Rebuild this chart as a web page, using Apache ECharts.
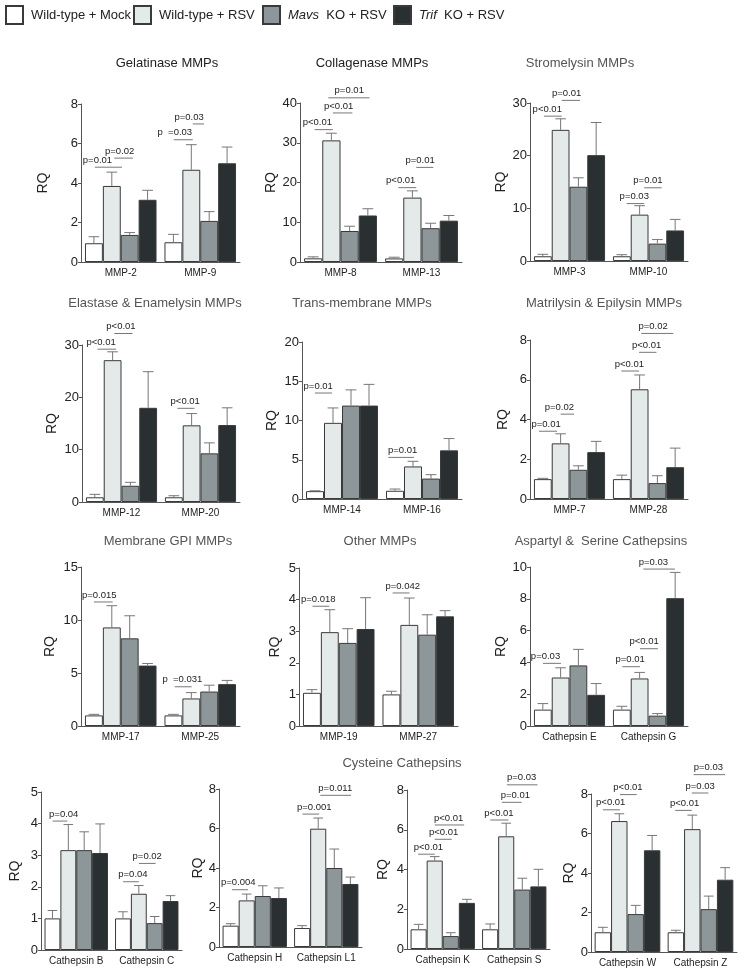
<!DOCTYPE html>
<html><head><meta charset="utf-8">
<script src="https://cdn.jsdelivr.net/npm/echarts@6/dist/echarts.min.js"></script>
<style>html,body{margin:0;padding:0;background:#fff}#c{width:749px;height:978px}</style>
</head><body><div id="c"></div>
<script>
// ---------- DATA ----------
const groupNames = ['Wild-type + Mock', 'Wild-type + RSV', 'Mavs KO + RSV', 'Trif KO + RSV'];

const gelTitle = 'Gelatinase MMPs';
const gelCats = ['MMP-2', 'MMP-9'];
const gelMeans = [[0.95, 1.0], [3.85, 4.67], [1.37, 2.08], [3.15, 5.0]];
const gelUpper = [[1.28, 1.4], [4.55, 5.94], [1.49, 2.55], [3.63, 5.82]];
const gelSig = [[0, 0.55, 2.07, 4.8, 'p=0.01', 0.7], [0, 1.64, 2.68, 5.26, 'p=0.02', 1.94], [1, 0.52, 1.58, 6.19, 'p  =0.03', 0.58], [1, 1.58, 2.21, 6.99, 'p=0.03', 1.38]];

const colTitle = 'Collagenase MMPs';
const colCats = ['MMP-8', 'MMP-13'];
const colMeans = [[0.92, 0.9], [30.6, 16.2], [7.8, 8.5], [11.7, 10.4]];
const colUpper = [[1.3, 1.2], [32.4, 17.9], [9.0, 9.75], [13.4, 11.7]];
const colSig = [[0, 0.58, 1.58, 33.3, 'p<0.01', 0.73], [0, 1.58, 2.65, 37.5, 'p<0.01', 1.9], [0, 1.33, 3.59, 41.3, 'p=0.01', 2.48], [1, 0.73, 1.71, 18.7, 'p<0.01', 0.86], [1, 1.71, 2.65, 23.8, 'p=0.01', 1.92]];

const strTitle = 'Stromelysin MMPs';
const strCats = ['MMP-3', 'MMP-10'];
const strMeans = [[0.9, 0.9], [24.9, 8.8], [14.1, 3.3], [20.1, 5.8]];
const strUpper = [[1.27, 1.2], [27.0, 10.5], [15.8, 4.07], [26.3, 7.9]];
const strSig = [[0, 0.56, 1.56, 27.5, 'p<0.01', 0.75], [0, 1.56, 2.59, 30.5, 'p=0.01', 1.84], [1, 0.77, 1.76, 10.9, 'p=0.03', 1.2], [1, 1.76, 2.74, 13.9, 'p=0.01', 1.97]];

const elaTitle = 'Elastase & Enamelysin MMPs';
const elaCats = ['MMP-12', 'MMP-20'];
const elaMeans = [[0.9, 0.9], [27.1, 14.65], [3.1, 9.3], [18.0, 14.7]];
const elaUpper = [[1.46, 1.2], [28.7, 16.9], [3.76, 11.3], [24.9, 18.0]];
const elaSig = [[0, 0.65, 1.7, 29.2, 'p<0.01', 0.85], [0, 1.6, 2.62, 32.2, 'p<0.01', 1.97], [1, 0.7, 1.66, 17.9, 'p<0.01', 1.14]];

const traTitle = 'Trans-membrane MMPs';
const traCats = ['MMP-14', 'MMP-16'];
const traMeans = [[1.0, 1.05], [9.7, 4.15], [11.9, 2.6], [11.9, 6.2]];
const traUpper = [[1.05, 1.27], [11.6, 4.8], [13.9, 3.1], [14.6, 7.7]];
const traSig = [[0, 0.5, 1.45, 13.5, 'p=0.01', 0.68], [1, 0.13, 1.55, 5.3, 'p=0.01', 0.92]];

const matTitle = 'Matrilysin & Epilysin MMPs';
const matCats = ['MMP-7', 'MMP-28'];
const matMeans = [[1.0, 1.0], [2.8, 5.52], [1.47, 0.8], [2.36, 1.6]];
const matUpper = [[1.04, 1.2], [3.28, 6.24], [1.67, 1.17], [2.9, 2.56]];
const matSig = [[0, 0.28, 1.3, 3.41, 'p=0.01', 0.68], [0, 1.5, 2.26, 4.27, 'p=0.02', 1.43], [1, 0.47, 1.47, 6.44, 'p<0.01', 0.92], [1, 1.47, 2.45, 7.38, 'p<0.01', 1.89], [1, 1.6, 3.4, 8.33, 'p=0.02', 2.26]];

const gpiTitle = 'Membrane GPI MMPs';
const gpiCats = ['MMP-17', 'MMP-25'];
const gpiMeans = [[1.0, 1.0], [9.3, 2.6], [8.27, 3.25], [5.7, 3.95]];
const gpiUpper = [[1.1, 1.1], [11.35, 3.15], [10.4, 3.85], [5.9, 4.3]];
const gpiSig = [[0, 0.5, 1.55, 11.7, 'p=0.015', 0.8], [1, 0.57, 1.52, 3.7, 'p  =0.031', 1.0]];

const othTitle = 'Other MMPs';
const othCats = ['MMP-19', 'MMP-27'];
const othMeans = [[1.05, 1.0], [2.97, 3.2], [2.63, 2.89], [3.07, 3.47]];
const othUpper = [[1.15, 1.1], [3.68, 4.05], [3.08, 3.52], [4.06, 3.65]];
const othSig = [[0, 0.53, 1.47, 3.79, 'p=0.018', 0.85], [1, 0.57, 1.51, 4.21, 'p=0.042', 1.13]];

const aspTitle = 'Aspartyl &  Serine Cathepsins';
const aspCats = ['Cathepsin E', 'Cathepsin G'];
const aspMeans = [[1.03, 1.03], [3.05, 2.99], [3.81, 0.65], [1.96, 8.04]];
const aspUpper = [[1.41, 1.24], [3.66, 3.37], [4.82, 0.78], [2.67, 9.66]];
const aspSig = [[0, 0.51, 1.52, 3.94, 'p=0.03', 0.65], [1, 0.53, 1.52, 3.73, 'p=0.01', 0.97], [1, 1.52, 2.53, 4.86, 'p<0.01', 1.75], [1, 1.71, 3.49, 9.87, 'p=0.03', 2.27]];

const cysTitle = 'Cysteine Cathepsins';
const cbcCats = ['Cathepsin B', 'Cathepsin C'];
const cbcMeans = [[1.0, 1.0], [3.16, 1.78], [3.16, 0.85], [3.07, 1.55]];
const cbcUpper = [[1.25, 1.21], [3.97, 2.04], [3.74, 1.06], [3.99, 1.72]];
const cbcSig = [[0, 0.51, 1.44, 4.08, 'p=0.04', 1.21], [1, 0.51, 1.5, 2.16, 'p=0.04', 1.13], [1, 1.5, 2.56, 2.74, 'p=0.02', 2.03]];

const chlCats = ['Cathepsin H', 'Cathepsin L1'];
const chlMeans = [[1.08, 0.96], [2.36, 5.99], [2.58, 4.0], [2.48, 3.19]];
const chlUpper = [[1.18, 1.08], [2.68, 6.53], [3.1, 4.96], [2.99, 3.54]];
const chlSig = [[0, 0.58, 1.58, 2.9, 'p=0.004', 0.98], [1, 0.52, 1.56, 6.73, 'p=0.001', 1.25], [1, 1.63, 3.54, 7.68, 'p=0.011', 2.56]];

const cksCats = ['Cathepsin K', 'Cathepsin S'];
const cksMeans = [[0.99, 0.99], [4.45, 5.67], [0.65, 2.99], [2.32, 3.15]];
const cksUpper = [[1.24, 1.26], [4.65, 6.33], [0.82, 3.56], [2.5, 4.01]];
const cksSig = [[0, 0.47, 1.5, 4.77, 'p<0.01', 1.11], [0, 1.5, 2.56, 5.52, 'p<0.01', 2.05], [0, 1.5, 3.33, 6.24, 'p<0.01', 2.36], [1, 0.51, 1.64, 6.49, 'p<0.01', 1.05], [1, 1.23, 2.46, 7.38, 'p=0.01', 2.07], [1, 1.54, 3.45, 8.26, 'p=0.03', 2.46]];

const cwzCats = ['Cathepsin W', 'Cathepsin Z'];
const cwzMeans = [[1.0, 1.0], [6.63, 6.22], [1.92, 2.17], [5.15, 3.66]];
const cwzUpper = [[1.25, 1.1], [7.0, 6.93], [2.36, 2.83], [5.9, 4.27]];
const cwzSig = [[0, 0.51, 1.54, 7.2, 'p<0.01', 0.98], [0, 1.54, 2.56, 7.97, 'p<0.01', 2.03], [1, 0.46, 1.47, 7.17, 'p<0.01', 1.03], [1, 1.47, 2.48, 8.05, 'p=0.03', 1.98], [1, 1.58, 3.5, 8.98, 'p=0.03', 2.48]];

// ---------- LAYOUT / STYLE ----------
const FONT = 'Liberation Sans, Arial, Helvetica, sans-serif';
const fills = ['#ffffff', '#e4e9e9', '#8d979a', '#2a3032'];
const GAP = 0.10;

const panels = [
  {cats: gelCats, means: gelMeans, upper: gelUpper, sig: gelSig, max: 8, step: 2, l: 81, r: 240, t: 104, b: 262, rq: 38},
  {cats: colCats, means: colMeans, upper: colUpper, sig: colSig, max: 40, step: 10, l: 300, r: 462, t: 103, b: 262, rq: 25},
  {cats: strCats, means: strMeans, upper: strUpper, sig: strSig, max: 30, step: 10, l: 530, r: 688, t: 103, b: 261, rq: 28},
  {cats: elaCats, means: elaMeans, upper: elaUpper, sig: elaSig, max: 30, step: 10, l: 82, r: 240, t: 345, b: 502, rq: 30},
  {cats: traCats, means: traMeans, upper: traUpper, sig: traSig, max: 20, step: 5, l: 302, r: 462, t: 342, b: 499, rq: 30},
  {cats: matCats, means: matMeans, upper: matUpper, sig: matSig, max: 8, step: 2, l: 530, r: 688, t: 340, b: 499, rq: 27},
  {cats: gpiCats, means: gpiMeans, upper: gpiUpper, sig: gpiSig, max: 15, step: 5, l: 81, r: 240, t: 567, b: 726, rq: 31},
  {cats: othCats, means: othMeans, upper: othUpper, sig: othSig, max: 5, step: 1, l: 299, r: 458, t: 568, b: 726, rq: 24},
  {cats: aspCats, means: aspMeans, upper: aspUpper, sig: aspSig, max: 10, step: 2, l: 530, r: 688, t: 567, b: 726, rq: 27},
  {cats: cbcCats, means: cbcMeans, upper: cbcUpper, sig: cbcSig, max: 5, step: 1, l: 41, r: 182, t: 792, b: 950, rq: 26},
  {cats: chlCats, means: chlMeans, upper: chlUpper, sig: chlSig, max: 8, step: 2, l: 219, r: 362, t: 789, b: 947, rq: 19},
  {cats: cksCats, means: cksMeans, upper: cksUpper, sig: cksSig, max: 8, step: 2, l: 407, r: 550, t: 790, b: 949, rq: 24},
  {cats: cwzCats, means: cwzMeans, upper: cwzUpper, sig: cwzSig, max: 8, step: 2, l: 591, r: 737, t: 794, b: 952, rq: 22}
];

const titles = [
  [gelTitle, 167, 65, '#222'], [colTitle, 372, 65, '#222'], [strTitle, 580, 65, '#555'],
  [elaTitle, 155, 305, '#555'], [traTitle, 362, 305, '#555'], [matTitle, 604, 305, '#555'],
  [gpiTitle, 168, 543, '#555'], [othTitle, 380, 543, '#555'], [aspTitle, 601, 543, '#555'],
  [cysTitle, 402, 765, '#555']
];

const legendPos = [[5, 5], [133, 5], [262, 5], [393, 5]];

// ---------- BUILD ----------
const chart = echarts.init(document.getElementById('c'), null, {renderer: 'canvas'});
const grids = [], xAxes = [], yAxes = [], series = [];

panels.forEach((p, i) => {
  grids.push({left: p.l, top: p.t, width: p.r - p.l, height: p.b - p.t});
  xAxes.push({
    type: 'category', gridIndex: i, data: p.cats,
    axisLine: {lineStyle: {color: '#555', width: 1}}, axisTick: {show: false},
    axisLabel: {fontSize: 10, color: '#222', margin: 6, fontFamily: FONT, interval: 0, hideOverlap: false}
  });
  yAxes.push({
    type: 'value', gridIndex: i, min: 0, max: p.max, interval: p.step,
    splitLine: {show: false},
    axisLine: {show: true, lineStyle: {color: '#555', width: 1}},
    axisTick: {show: true, length: 3, lineStyle: {color: '#555'}},
    axisLabel: {fontSize: 13, color: '#222', margin: 3, fontFamily: FONT},
    name: 'RQ', nameLocation: 'middle', nameGap: p.rq - 7,
    nameTextStyle: {fontSize: 14, color: '#222', fontFamily: FONT}
  });
  groupNames.forEach((g, s) => {
    series.push({
      type: 'bar', name: g, xAxisIndex: i, yAxisIndex: i, data: p.means[s],
      barGap: '0%', barCategoryGap: (GAP * 100) + '%',
      itemStyle: {color: fills[s], borderColor: '#3a3a3a', borderWidth: 1},
      silent: true, animation: false
    });
  });
  const errData = [];
  p.means.forEach((arr, s) => arr.forEach((v, c) => errData.push([c, s, v, p.upper[s][c]])));
  series.push({
    type: 'custom', xAxisIndex: i, yAxisIndex: i, data: errData, z: 3, silent: true, animation: false,
    renderItem: function (params, api) {
      const c = api.value(0), s = api.value(1), m = api.value(2), u = api.value(3);
      const band = api.size([1, 0])[0];
      const bw = band * (1 - GAP) / 4;
      const cx = api.coord([c, 0])[0] + (s - 1.5) * bw;
      const y0 = api.coord([c, m])[1], y1 = api.coord([c, u])[1];
      const half = bw * 0.3;
      return {type: 'group', children: [
        {type: 'line', shape: {x1: cx, y1: y0, x2: cx, y2: y1}, style: {stroke: '#777', lineWidth: 1}},
        {type: 'line', shape: {x1: cx - half, y1: y1, x2: cx + half, y2: y1}, style: {stroke: '#777', lineWidth: 1}}
      ]};
    }
  });
  const sigData = p.sig.map(d => [d[0], d[1], d[2], d[3], d[5]]);
  series.push({
    type: 'custom', xAxisIndex: i, yAxisIndex: i, data: sigData, z: 4, silent: true, animation: false, clip: false,
    renderItem: function (params, api) {
      const g = api.value(0), a = api.value(1), b = api.value(2), yv = api.value(3), tx = api.value(4);
      const band = api.size([1, 0])[0];
      const bw = band * (1 - GAP) / 4;
      const base = api.coord([g, 0])[0] - 2 * bw;
      const yy = api.coord([g, yv])[1];
      return {type: 'group', children: [
        {type: 'line', shape: {x1: base + a * bw, y1: yy, x2: base + b * bw, y2: yy}, style: {stroke: '#777', lineWidth: 1}},
        {type: 'text', style: {text: p.sig[params.dataIndex][4], x: base + tx * bw, y: yy - 7, align: 'center', verticalAlign: 'middle', fill: '#222', fontSize: 9.5, fontFamily: FONT}}
      ]};
    }
  });
});

const legends = groupNames.map((g, k) => ({
  data: [g], left: legendPos[k][0], top: legendPos[k][1], padding: 0,
  itemWidth: 17, itemHeight: 18, selectedMode: false,
  icon: 'rect',
  formatter: function (name) {
    if (name.indexOf('Mavs') === 0) return '{i|Mavs}  KO + RSV';
    if (name.indexOf('Trif') === 0) return '{i|Trif}  KO + RSV';
    return name;
  },
  textStyle: {fontSize: 13, color: '#222', fontFamily: FONT, padding: [0, 0, 0, 3],
    rich: {i: {fontStyle: 'italic', fontSize: 13, color: '#222', fontFamily: FONT}}}
}));

const titleOpts = titles.map(t => ({
  text: t[0], left: t[1], top: t[2] - 8, textAlign: 'center', padding: 0,
  textStyle: {fontSize: 13, fontWeight: 'normal', color: t[3], fontFamily: FONT}
}));

chart.setOption({
  animation: false,
  textStyle: {fontFamily: FONT},
  title: titleOpts,
  legend: legends,
  grid: grids, xAxis: xAxes, yAxis: yAxes, series: series
});
</script></body></html>
